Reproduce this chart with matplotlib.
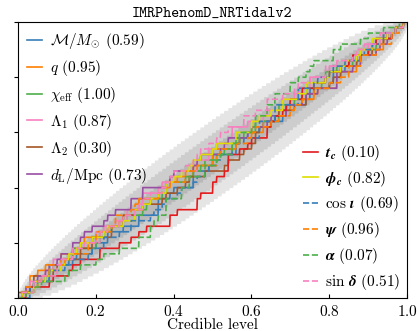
from math import comb

import numpy as np
import matplotlib
matplotlib.use("Agg")
import matplotlib.pyplot as plt

plt.rcParams['font.family'] = 'serif'
plt.rcParams['font.serif'] = ['cmr10']
plt.rcParams['mathtext.fontset'] = 'cm'
plt.rcParams['axes.formatter.use_mathtext'] = True
plt.rcParams['font.size'] = 11

# credible levels (percent) of the injections, one list per parameter
lev_mchirp = [1, 4, 3, 8, 8, 8, 14, 15, 20, 19, 23, 23, 27, 31, 31, 36, 36, 36, 40, 39,
              45, 45, 45, 49, 50, 50, 55, 57, 56, 59, 62, 63, 68, 69, 69, 74, 75, 75, 80, 81,
              81, 84, 87, 85, 90, 91, 92, 96, 97, 99]
lev_q = [2, 1, 3, 5, 3, 7, 11, 11, 14, 17, 16, 21, 23, 27, 26, 30, 31, 31, 36, 39,
         38, 41, 45, 45, 50, 50, 50, 56, 57, 60, 63, 63, 66, 70, 69, 73, 76, 77, 82, 82,
         83, 87, 87, 87, 92, 94, 94, 95, 97, 99]
lev_chi = [1, 5, 3, 7, 8, 9, 13, 14, 14, 20, 21, 22, 24, 28, 27, 33, 32, 34, 37, 38,
           38, 43, 45, 47, 48, 51, 55, 53, 57, 58, 61, 61, 67, 67, 67, 71, 74, 73, 78, 79,
           79, 82, 86, 86, 90, 92, 93, 94, 97, 99]
lev_lam1 = [2, 2, 3, 7, 6, 9, 9, 13, 15, 16, 20, 20, 22, 25, 28, 28, 32, 32, 31, 36,
            37, 40, 40, 46, 46, 49, 49, 51, 55, 54, 55, 59, 63, 64, 68, 68, 71, 72, 75, 75,
            80, 80, 84, 88, 88, 90, 93, 94, 97, 99]
lev_lam2 = [0, 3, 4, 4, 9, 10, 12, 16, 16, 19, 19, 24, 24, 27, 27, 30, 32, 37, 38, 41,
            43, 44, 48, 54, 53, 57, 60, 58, 61, 61, 62, 65, 67, 66, 71, 74, 74, 76, 80, 81,
            83, 83, 87, 88, 91, 91, 94, 96, 97, 99]
lev_dl = [1, 2, 5, 4, 8, 7, 10, 11, 14, 14, 17, 16, 19, 22, 23, 25, 29, 29, 32, 32,
          38, 39, 40, 45, 46, 47, 52, 53, 54, 59, 60, 65, 64, 69, 69, 73, 74, 77, 82, 82,
          82, 86, 88, 88, 92, 93, 95, 95, 97, 99]
lev_tc = [2, 3, 8, 9, 13, 14, 16, 21, 21, 26, 29, 31, 33, 39, 39, 41, 46, 47, 46, 50,
          50, 53, 51, 54, 54, 54, 57, 60, 59, 64, 65, 64, 66, 69, 68, 70, 73, 73, 76, 80,
          79, 83, 85, 86, 90, 91, 92, 96, 97, 99]
lev_phic = [1, 4, 4, 7, 8, 12, 11, 13, 16, 15, 19, 23, 22, 27, 30, 30, 32, 36, 34, 38,
            40, 38, 42, 44, 45, 47, 50, 51, 56, 56, 60, 60, 62, 65, 68, 68, 72, 74, 74, 79,
            80, 84, 83, 87, 88, 91, 91, 95, 97, 99]
lev_cosi = [3, 3, 4, 8, 8, 12, 13, 18, 19, 22, 22, 26, 29, 29, 34, 35, 38, 37, 42, 41,
            45, 46, 49, 48, 51, 52, 56, 56, 58, 62, 62, 62, 66, 66, 66, 72, 72, 72, 76, 77,
            80, 81, 84, 89, 88, 91, 94, 94, 97, 99]
lev_psi = [1, 2, 5, 6, 8, 8, 12, 14, 18, 18, 20, 20, 25, 24, 25, 29, 30, 31, 36, 37,
           39, 43, 43, 46, 51, 52, 51, 56, 59, 60, 61, 65, 67, 71, 70, 73, 76, 76, 80, 83,
           85, 85, 88, 88, 92, 93, 96, 96, 98, 99]
lev_alpha = [2, 4, 6, 12, 13, 16, 20, 22, 26, 31, 31, 35, 34, 36, 34, 38, 38, 38, 42, 42,
             44, 44, 48, 48, 52, 51, 55, 55, 57, 56, 61, 60, 61, 64, 64, 66, 66, 70, 70, 72,
             74, 75, 76, 81, 81, 83, 88, 90, 94, 98]
lev_sind = [0, 4, 4, 6, 10, 10, 11, 14, 14, 17, 21, 21, 23, 27, 26, 30, 32, 32, 34, 38,
            37, 39, 43, 40, 45, 47, 46, 49, 52, 51, 54, 58, 58, 61, 64, 64, 68, 71, 72, 75,
            79, 79, 82, 86, 87, 89, 93, 93, 97, 99]

levels = [lev_mchirp, lev_q, lev_chi, lev_lam1, lev_lam2, lev_dl,
          lev_tc, lev_phic, lev_cosi, lev_psi, lev_alpha, lev_sind]
labels = [r'$\mathcal{M}/M_{\odot}$', r'$q$', r'$\chi_{\rm eff}$', r'$\Lambda_1$',
          r'$\Lambda_2$', r'$d_{\rm L}/{\rm Mpc}$',
          r'${\mathbfit{t}}_{\mathbfit{c}}$', r'${\mathbfit{\phi}}_{\mathbfit{c}}$',
          r'$\cos\,\mathbfit{\iota}$', r'$\mathbfit{\psi}$', r'$\mathbfit{\alpha}$',
          r'$\sin\,\mathbfit{\delta}$']
pvalues = [0.59, 0.95, 1.00, 0.87, 0.30, 0.73, 0.10, 0.82, 0.69, 0.96, 0.07, 0.51]

colors = ['#377eb8', '#ff7f00', '#4daf4a', '#f781bf', '#a65628', '#984ea3',
          '#e41a1c', '#dede00', '#377eb8', '#ff7f00', '#4daf4a', '#f781bf']
styles = ['-'] * 8 + ['--'] * 4

n_inj = 100
conf_int = [0.68, 0.95, 0.997]


def binom_ppf(q, n, p):
    k = np.arange(n + 1)
    c = np.array([comb(n, i) for i in k], dtype=float)
    out = np.empty(len(p))
    for j, pp in enumerate(p):
        cdf = np.cumsum(c * pp ** k * (1 - pp) ** (n - k))
        out[j] = np.searchsorted(cdf, q - 1e-10)
    return out


x_values = np.linspace(0, 1, 1001)

fig = plt.figure(figsize=(4.17, 3.31), dpi=100)
ax = fig.add_axes([18 / 417, 1 - 298 / 331, 389 / 417, 276 / 331])

for ci in conf_int:
    edge = (1 - ci) / 2
    lower = binom_ppf(1 - edge, n_inj, x_values) / n_inj
    upper = binom_ppf(edge, n_inj, x_values) / n_inj
    lower[0] = 0
    upper[0] = 0
    ax.fill_between(x_values, lower, upper, alpha=0.1, color='k', lw=0)

handles = []
for lev, lab, pv, col, ls in zip(levels, labels, pvalues, colors, styles):
    lev = np.sort(np.array(lev) / 100)
    pp = np.array([np.mean(lev < xx) for xx in x_values])
    h, = ax.plot(x_values, pp, ls, color=col, lw=1.2,
                 label='{} ({:.2f})'.format(lab, pv))
    handles.append(h)

ax.set_xlim(0, 1)
ax.set_ylim(0, 1)
ax.set_xticks([0, 0.2, 0.4, 0.6, 0.8, 1.0])
ax.set_yticks([0, 0.2, 0.4, 0.6, 0.8, 1.0])
ax.set_yticklabels([])
ax.tick_params(axis='x', direction='in', length=3, pad=4)
ax.tick_params(axis='y', direction='out', length=3)
ax.set_xlabel('Credible level', labelpad=0)
ax.set_title('IMRPhenomD_NRTidalv2', fontfamily='cmtt10', fontsize=11, pad=4)

leg1 = ax.legend(handles=handles[:6], loc='upper left', frameon=False,
                 handlelength=1.0, handletextpad=0.5, borderaxespad=0.2,
                 labelspacing=0.45)
ax.add_artist(leg1)
ax.legend(handles=handles[6:], loc='lower right', frameon=False,
          handlelength=1.0, handletextpad=0.5, borderaxespad=0.0,
          labelspacing=0.38)

fig.savefig('out.png', dpi=100)
